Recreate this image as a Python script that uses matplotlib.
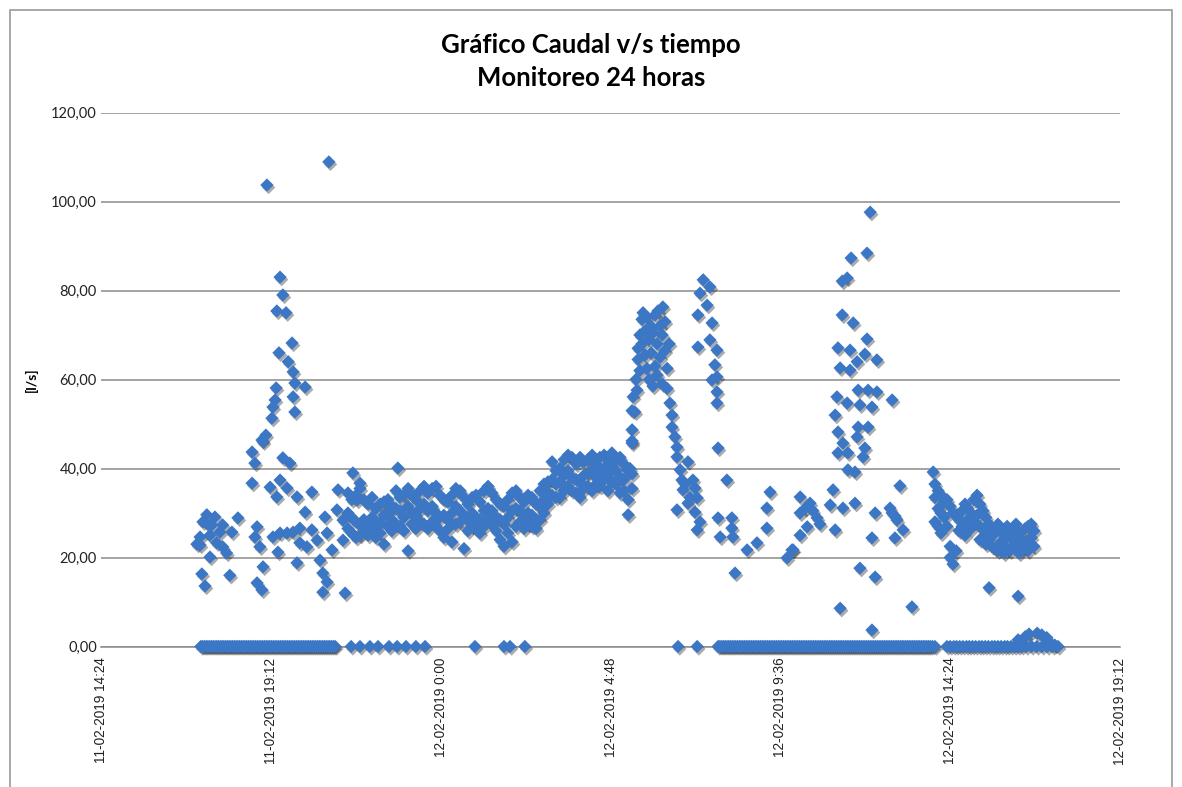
import datetime as dt
import matplotlib
matplotlib.use("Agg")
import matplotlib.pyplot as plt
from matplotlib import patheffects as pe
from matplotlib.patches import Rectangle
from matplotlib.ticker import FixedLocator, FuncFormatter

# ---------------- DATA (time = hours since 11-02-2019 00:00, flow in l/s) ----------------
t_evening = [17.11, 17.20, 17.20, 17.25, 17.28, 17.34, 17.39, 17.42, 17.48, 17.48,
             17.53, 17.62, 17.67, 17.76, 17.84, 17.84, 17.95, 18.04, 18.10, 18.27,
             18.67, 18.67, 18.75, 18.75, 18.81, 18.81, 18.89, 18.95, 18.95, 18.98,
             18.98, 19.06, 19.09, 19.18, 19.23, 19.26, 19.26, 19.32, 19.35, 19.37,
             19.37, 19.40, 19.43, 19.46, 19.46, 19.46, 19.54, 19.54, 19.63, 19.66,
             19.66, 19.69, 19.74, 19.80, 19.83, 19.83, 19.83, 19.88, 19.88, 19.94,
             19.94, 20.02, 20.02, 20.17, 20.17, 20.22, 20.36, 20.36, 20.51, 20.59,
             20.67, 20.67, 20.73, 20.79, 20.79, 20.84, 20.93, 21.07, 21.10, 21.24,
             21.24, 21.30, 21.52, 21.64, 21.72, 22.79]
q_evening = [23.0, 24.6, 22.8, 16.3, 28.0, 13.6, 29.6, 27.5, 25.0, 20.1,
             27.3, 29.1, 23.3, 25.7, 27.3, 22.4, 21.0, 16.0, 25.7, 28.9,
             43.7, 36.7, 41.2, 24.6, 26.9, 14.3, 22.4, 12.7, 46.4, 17.9,
             46.0, 47.5, 103.7, 35.8, 51.3, 24.6, 53.8, 55.4, 58.1, 33.6,
             75.4, 21.2, 66.0, 83.0, 37.4, 25.5, 79.0, 42.4, 75.0, 35.6,
             25.5, 64.0, 41.2, 68.2, 61.7, 56.1, 25.7, 59.2, 52.7, 33.6,
             18.8, 26.6, 23.3, 58.3, 30.2, 22.4, 34.7, 26.2, 23.9, 19.4,
             16.5, 12.2, 29.1, 14.5, 25.5, 108.9, 21.7, 30.7, 35.2, 28.4,
             23.9, 12.0, 39.0, 32.9, 36.7, 40.1]

t_night = [21.38, 21.49, 21.61, 21.72, 21.83, 21.95, 22.06, 22.17, 22.29, 22.40,
           22.51, 22.62, 22.74, 22.85, 22.96, 23.08, 23.19, 23.30, 23.42, 23.53,
           23.64, 23.76, 23.87, 23.98, 24.09, 24.21, 24.32, 24.43, 24.55, 24.66,
           24.77, 24.89, 25.00, 25.11, 25.23, 25.34, 25.45, 25.57, 25.68, 25.79,
           25.90, 26.02, 26.13, 26.24, 26.36, 26.47, 26.58, 26.70, 26.81, 26.92]
q_night_hi = [34.5, 33.0, 34.0, 35.5, 33.0, 32.0, 33.5, 31.0, 32.0, 32.5,
              33.0, 31.5, 35.0, 33.5, 34.0, 35.5, 34.0, 33.0, 35.0, 36.0,
              34.5, 35.5, 36.0, 34.0, 33.0, 32.5, 34.0, 35.5, 35.0, 33.5,
              32.0, 33.5, 34.0, 32.5, 35.0, 36.0, 34.5, 33.0, 32.0, 31.5,
              33.0, 34.5, 35.0, 33.5, 32.5, 34.0, 33.5, 32.0, 35.0, 36.5]
q_night_mid = [30.0, 29.0, 28.0, 27.5, 28.5, 27.0, 29.0, 27.5, 28.0, 29.5,
               30.0, 28.5, 31.0, 30.5, 29.0, 31.5, 30.0, 29.5, 31.0, 32.0,
               30.5, 31.5, 30.0, 29.0, 29.5, 28.5, 30.0, 31.5, 30.5, 29.5,
               28.5, 30.0, 29.0, 28.5, 30.5, 31.0, 30.5, 29.0, 28.5, 27.5,
               29.0, 30.5, 31.0, 30.5, 29.0, 30.0, 29.5, 28.5, 31.5, 33.0]
q_night_lo = [26.5, 25.5, 24.5, 25.0, 26.0, 25.0, 26.5, 24.5, 25.5, 23.0,
              27.0, 26.0, 27.5, 27.0, 26.0, 21.5, 27.5, 26.5, 28.0, 27.5,
              26.5, 28.0, 27.0, 26.0, 24.5, 26.5, 23.5, 27.5, 28.0, 22.0,
              26.0, 27.0, 26.5, 25.5, 27.0, 28.5, 27.5, 26.0, 24.0, 22.5,
              25.5, 23.5, 27.0, 28.0, 26.5, 27.5, 27.0, 26.5, 28.5, 30.0]

t_dawn = [27.03, 27.15, 27.26, 27.37, 27.49, 27.60, 27.71, 27.83, 27.94, 28.05,
          28.16, 28.28, 28.39, 28.50, 28.62, 28.73, 28.84, 28.96, 29.07, 29.18, 29.30]
q_dawn_hi = [37.0, 41.5, 39.5, 40.0, 42.0, 43.0, 42.5, 41.0, 42.5, 41.5,
             42.0, 43.0, 41.0, 42.5, 43.0, 42.0, 43.5, 42.0, 42.5, 41.0, 39.5]
q_dawn_mid = [34.5, 37.5, 36.5, 37.0, 38.5, 39.5, 38.0, 37.5, 37.0, 38.5,
              39.0, 39.5, 38.0, 39.0, 40.0, 38.5, 40.5, 39.5, 38.0, 37.5, 33.0]
q_dawn_lo = [32.0, 34.0, 33.5, 33.5, 35.0, 36.0, 35.0, 34.5, 33.5, 35.5,
             36.0, 35.0, 36.5, 36.0, 37.5, 35.0, 37.0, 36.5, 34.5, 35.0, 29.6]

t_morning = [29.35, 29.41, 29.41, 29.41, 29.41, 29.41, 29.41, 29.44, 29.49, 29.55,
             29.63, 29.52, 29.58, 29.58, 29.63, 29.69, 29.69, 29.72, 29.78, 29.78,
             29.83, 29.83, 29.89, 29.89, 29.95, 29.95, 30.00, 30.00, 30.06, 30.06,
             30.12, 30.12, 30.14, 30.20, 30.20, 30.26, 30.26, 30.28, 30.34, 30.34,
             30.40, 30.40, 30.46, 30.48, 30.54, 30.54, 30.62, 30.68, 30.68, 30.68,
             30.77, 30.82, 30.85, 30.91, 30.99, 30.99, 31.05, 31.13, 31.19, 31.19,
             31.25, 31.25, 31.33,
             31.42, 31.61, 31.33, 31.53, 31.27, 31.67, 31.27, 31.61, 31.81, 31.75,
             31.81, 31.67, 31.81, 31.81, 31.84, 32.09, 31.84, 32.23, 32.23, 31.90,
             32.26, 32.66, 32.94, 32.32, 33.31, 33.22, 33.22, 33.79, 33.93]
q_morning = [40.0, 38.8, 35.5, 46.2, 48.7, 45.7, 53.0, 56.1, 52.7, 57.6,
             62.0, 60.0, 64.5, 67.0, 70.0, 73.5, 68.0, 75.0, 71.0, 65.5,
             74.0, 62.5, 69.0, 60.0, 72.0, 66.0, 70.5, 58.5, 74.5, 63.0,
             68.0, 61.0, 75.4, 72.0, 65.0, 70.0, 59.0, 76.3, 73.0, 66.5,
             58.0, 62.5, 68.0, 54.7, 52.0, 49.3, 47.1, 44.8, 42.6, 30.7,
             39.7, 37.4, 35.2, 36.5, 41.5, 32.2, 33.5, 37.4, 35.6, 30.2,
             33.4, 26.2, 28.0,
             82.4, 80.8, 79.4, 76.7, 74.5, 72.7, 67.3, 68.9, 66.6, 63.3,
             60.6, 59.9, 57.2, 54.7, 44.6, 37.4, 28.9, 28.9, 26.6, 24.6,
             24.6, 21.7, 23.3, 16.5, 34.7, 31.1, 26.6, 19.9, 21.7]

t_noon = [34.16, 34.16, 34.16, 34.30, 34.36, 34.44, 34.52, 34.64, 34.72, 35.01,
          35.09, 35.15, 35.37, 35.71, 36.19, 36.28, 36.70, 36.76, 36.84, 36.90,
          36.84, 36.98, 37.07, 33.96, 35.85, 36.28, 35.29, 37.32, 36.19,
          36.14, 36.05, 35.60, 35.49, 35.35, 35.35, 35.66, 36.05, 35.23, 35.57,
          35.99, 36.33, 35.77, 35.29, 35.57, 35.80, 36.08, 36.33, 36.76, 35.20,
          35.49, 35.85, 36.19, 35.15, 35.23, 35.80, 36.08, 35.77, 35.37, 35.99,
          35.23, 35.51, 35.94, 35.51, 35.71]
q_noon = [33.6, 30.0, 25.0, 31.0, 26.9, 32.2, 30.5, 28.9, 27.5, 31.8,
          35.2, 26.2, 31.1, 32.2, 24.4, 30.0, 31.1, 30.0, 29.3, 28.4,
          24.4, 36.1, 26.2, 21.7, 17.6, 15.6, 8.6, 8.9, 3.7,
          97.6, 88.4, 87.3, 82.8, 82.1, 74.5, 72.7, 69.1, 67.1, 66.6,
          65.7, 64.4, 64.0, 62.6, 62.1, 57.6, 57.6, 57.2, 55.4, 56.1,
          54.7, 54.3, 53.8, 52.0, 48.2, 49.3, 49.3, 47.1, 45.7, 44.6,
          43.5, 43.5, 42.6, 39.7, 39.2]

t_afternoon = [37.92, 37.97, 37.97, 37.97, 38.06, 38.06, 38.06, 38.14, 38.14, 38.14,
               38.23, 38.23, 38.31, 38.31, 38.40, 38.40, 38.40, 38.48, 38.48, 38.57,
               38.57, 38.65, 38.65, 38.74, 38.74, 38.82, 38.82, 38.90, 38.90, 38.99,
               38.99, 39.07, 39.07, 39.16, 39.16, 39.24, 39.24, 39.24, 39.33, 39.33,
               39.41, 39.41, 39.41, 39.50, 39.50, 39.50, 39.58, 39.58, 39.67, 39.67,
               39.75, 39.75, 39.84, 39.84, 39.92, 39.92, 40.01, 40.01, 40.09, 40.09,
               40.18, 40.18, 40.26, 40.26, 40.32, 40.35, 40.35, 40.43, 40.43, 40.52,
               40.52, 40.60, 40.60, 40.69, 40.69, 40.77, 40.77]
q_afternoon = [39.2, 36.5, 33.5, 28.0, 35.0, 31.0, 27.0, 34.0, 30.0, 25.5,
               32.5, 29.0, 33.0, 27.0, 31.5, 22.5, 20.0, 30.0, 18.5, 29.5,
               21.5, 28.5, 26.0, 30.5, 27.0, 32.0, 25.0, 31.0, 28.5, 30.0,
               26.5, 33.0, 28.0, 34.0, 29.5, 32.0, 27.0, 24.0, 30.5, 26.5,
               29.0, 25.5, 23.0, 27.5, 24.0, 13.2, 26.5, 22.5, 25.5, 22.0,
               27.5, 21.5, 26.0, 23.5, 25.0, 21.0, 27.0, 22.0, 24.5, 21.5,
               26.0, 22.5, 27.5, 23.5, 11.3, 25.5, 21.0, 24.0, 22.0, 26.5,
               23.0, 27.0, 21.5, 27.5, 24.5, 26.0, 22.5]

# times with a reading of 0,00 l/s
t_zero = [17.22, 17.27, 17.32, 17.37, 17.42, 17.47, 17.52, 17.57, 17.62, 17.67,
          17.72, 17.77, 17.82, 17.87, 17.92, 17.97, 18.02, 18.07, 18.12, 18.17,
          18.22, 18.27, 18.32, 18.37, 18.42, 18.47, 18.52, 18.57, 18.62, 18.67,
          18.72, 18.77, 18.82, 18.87, 18.92, 18.97, 19.02, 19.07, 19.12, 19.17,
          19.22, 19.27, 19.32, 19.37, 19.42, 19.47, 19.52, 19.57, 19.62, 19.67,
          19.72, 19.77, 19.82, 19.87, 19.92, 19.97, 20.02, 20.07, 20.12, 20.17,
          20.22, 20.27, 20.32, 20.37, 20.42, 20.47, 20.52, 20.57, 20.62, 20.67,
          20.72, 20.77, 20.82, 20.87, 20.92, 20.97, 21.02,
          21.47, 21.72, 22.00, 22.23, 22.54, 22.77, 23.02, 23.30, 23.56,
          24.97, 25.79, 25.96, 26.38,
          30.71, 31.25,
          31.84, 31.89, 31.94, 31.99, 32.04, 32.09, 32.14, 32.19, 32.24, 32.29,
          32.34, 32.39, 32.44, 32.49, 32.54, 32.59, 32.64, 32.69, 32.74, 32.79,
          32.84, 32.89, 32.94, 32.99, 33.04, 33.09, 33.14, 33.19, 33.24, 33.29,
          33.34, 33.39, 33.44, 33.49, 33.54, 33.59, 33.64, 33.69, 33.74, 33.79,
          33.84, 33.89, 33.94, 33.99, 34.04, 34.09, 34.14, 34.19, 34.24, 34.29,
          34.34, 34.39, 34.44, 34.49, 34.54, 34.59, 34.64, 34.69, 34.74, 34.79,
          34.84, 34.89, 34.94, 34.99, 35.04, 35.09, 35.14, 35.19, 35.24, 35.29,
          35.34, 35.39, 35.44, 35.49, 35.54, 35.59, 35.64, 35.69, 35.74, 35.79,
          35.84, 35.89, 35.94, 35.99, 36.04, 36.09, 36.14, 36.19, 36.24, 36.29,
          36.34, 36.39, 36.44, 36.49, 36.54, 36.59, 36.64, 36.69, 36.74, 36.79,
          36.84, 36.89, 36.94, 36.99, 37.04, 37.09, 37.14, 37.19, 37.24, 37.29,
          37.34, 37.39, 37.44, 37.49, 37.54, 37.59, 37.64, 37.69, 37.74, 37.79,
          37.84, 37.90, 37.97,
          38.31, 38.40, 38.50, 38.58, 38.67, 38.76, 38.86, 38.94, 39.03, 39.12,
          39.22, 39.30, 39.39, 39.48, 39.58, 39.66, 39.75, 39.84, 39.94, 40.02,
          40.12, 40.22, 40.32, 40.42, 40.55, 40.70, 40.85, 41.00, 41.15, 41.30, 41.45]
q_zero = [0.0] * len(t_zero)

t_tail = [40.32, 40.52, 40.63, 40.86, 40.99, 41.13, 41.22, 41.36]
q_tail = [1.5, 2.2, 2.8, 3.0, 2.6, 2.0, 0.8, 0.3]

# ---------------- FIGURE ----------------
W, H = 1182, 787
fig = plt.figure(figsize=(W / 100, H / 100), dpi=100)
fig.patch.set_facecolor("white")
ax = fig.add_axes([101 / W, 1 - 646.5 / H, (1120 - 101) / W, (646.5 - 112.5) / H])

t_all = (t_zero + t_tail + t_evening + t_night + t_night + t_night + t_dawn + t_dawn
         + t_dawn + t_morning + t_noon + t_afternoon)
q_all = (q_zero + q_tail + q_evening + q_night_hi + q_night_mid + q_night_lo
         + q_dawn_hi + q_dawn_mid + q_dawn_lo + q_morning + q_noon + q_afternoon)

blue = "#3b77c5"
sc = ax.scatter(t_all, q_all, marker="D", s=46, c=blue, linewidths=0,
                clip_on=False, zorder=3)
sc.set_path_effects([pe.SimplePatchShadow(offset=(1.2, -1.8), shadow_rgbFace="black",
                                          alpha=0.33), pe.Normal()])

ax.set_xlim(14.4, 43.2)
ax.set_ylim(0, 120)
ax.set_axisbelow(True)

y_ticks = [0, 20, 40, 60, 80, 100, 120]
ax.yaxis.set_major_locator(FixedLocator(y_ticks))
ax.yaxis.set_major_formatter(FuncFormatter(lambda v, p: f"{v:.2f}".replace(".", ",")))
ax.yaxis.grid(True, color="#8a8a8a", linewidth=1.1)

x_ticks = [14.4, 19.2, 24.0, 28.8, 33.6, 38.4, 43.2]
base = dt.datetime(2019, 2, 11)


def fmt_x(v, pos):
    d = base + dt.timedelta(minutes=round(v * 60))
    return f"{d:%d-%m-%Y} {d.hour}:{d.minute:02d}"


ax.xaxis.set_major_locator(FixedLocator(x_ticks))
ax.xaxis.set_major_formatter(FuncFormatter(fmt_x))

for s in ["top", "right", "left"]:
    ax.spines[s].set_visible(False)
ax.spines["bottom"].set_color("#8a8a8a")
ax.spines["bottom"].set_linewidth(1.1)

ax.tick_params(axis="y", length=0, pad=3, labelsize=10.5, labelcolor="#222222")
ax.tick_params(axis="x", length=0, pad=8, labelsize=9.8, labelcolor="#222222",
               labelrotation=90)
for lab in ax.get_yticklabels():
    lab.set_family("Lato")
for lab in ax.get_xticklabels():
    lab.set_family("Liberation Sans")

fig.text(0.5, 1 - 45 / H, "Gráfico Caudal v/s tiempo", ha="center", va="center",
         fontsize=18.5, fontweight="bold", family="Lato")
fig.text(0.5, 1 - 78 / H, "Monitoreo 24 horas", ha="center", va="center",
         fontsize=18.5, fontweight="bold", family="Lato")
fig.text(31 / W, 1 - 380 / H, "[l/s]", ha="center", va="center", rotation=90,
         fontsize=10, fontweight="bold", family="Lato")

fig.add_artist(Rectangle((10 / W, -0.05), (1172 - 10) / W, 1.05 - 10 / H, fill=False,
                         edgecolor="#9a9a9a", linewidth=1.2, transform=fig.transFigure))

fig.savefig("out.png", dpi=100)
